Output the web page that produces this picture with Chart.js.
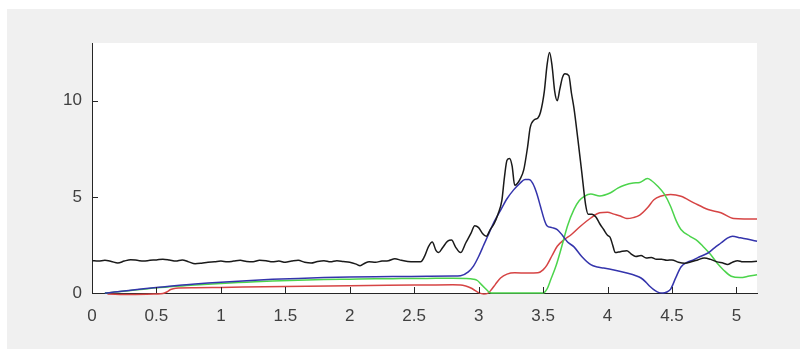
<!DOCTYPE html>
<html>
<head>
<meta charset="utf-8">
<script src="https://cdn.jsdelivr.net/npm/chart.js@4.4.0/dist/chart.umd.min.js"></script>
<style>
  html, body { margin: 0; padding: 0; background: #fff; }
  #wrap { width: 800px; height: 349px; position: relative; }
</style>
</head>
<body>
<div id="wrap"><canvas id="chart" width="800" height="349"></canvas></div>
<script>
// tick labels
const xTicks = [0, 0.5, 1, 1.5, 2, 2.5, 3, 3.5, 4, 4.5, 5];
const yTicks = [0, 5, 10];

// black trace (noisy)
const blackX = [0, 0.05, 0.1, 0.15, 0.2, 0.25, 0.3, 0.35, 0.4, 0.45, 0.5, 0.55, 0.6, 0.65, 0.7, 0.75, 0.8, 0.85, 0.9, 0.95,
  1.0, 1.05, 1.1, 1.15, 1.2, 1.25, 1.3, 1.35, 1.4, 1.45, 1.5, 1.55, 1.6, 1.65, 1.7, 1.75, 1.8, 1.85, 1.9, 1.95,
  2.0, 2.05, 2.08, 2.12, 2.15, 2.2, 2.25, 2.3, 2.35, 2.4, 2.45, 2.5, 2.55,
  2.58, 2.61, 2.64, 2.67, 2.69, 2.72, 2.76, 2.79, 2.82, 2.86, 2.9, 2.94, 2.97, 3.0, 3.03, 3.06, 3.09, 3.12, 3.15, 3.18,
  3.2, 3.22, 3.24, 3.26, 3.28, 3.3, 3.32, 3.35, 3.38, 3.4, 3.43, 3.46, 3.48, 3.51, 3.53, 3.55, 3.57, 3.59, 3.61, 3.63,
  3.65, 3.67, 3.7, 3.72, 3.74, 3.77, 3.8, 3.83, 3.85, 3.88, 3.91, 3.94, 3.97, 4.0, 4.02, 4.04, 4.06, 4.1, 4.15, 4.18,
  4.22, 4.26, 4.3, 4.34, 4.38, 4.42, 4.46, 4.5, 4.55, 4.6, 4.65, 4.7, 4.75, 4.8, 4.85, 4.9, 4.93, 4.97, 5.01, 5.05, 5.1, 5.16];
const blackY = [1.68, 1.66, 1.7, 1.64, 1.56, 1.66, 1.73, 1.7, 1.66, 1.7, 1.72, 1.76, 1.72, 1.66, 1.72, 1.62, 1.52, 1.55, 1.6, 1.62,
  1.66, 1.62, 1.66, 1.7, 1.64, 1.62, 1.7, 1.68, 1.62, 1.66, 1.6, 1.66, 1.7, 1.6, 1.56, 1.64, 1.68, 1.62, 1.68, 1.64,
  1.6, 1.5, 1.42, 1.56, 1.62, 1.6, 1.66, 1.68, 1.78, 1.7, 1.64, 1.62, 1.62,
  1.9, 2.4, 2.65, 2.2, 2.1, 2.35, 2.7, 2.75, 2.4, 2.1, 2.6, 3.1, 3.5, 3.4, 3.1, 2.95, 3.3, 3.6, 4.1, 4.8,
  6.0, 6.9, 7.0, 6.6, 5.6, 5.7, 5.9, 6.4, 7.6, 8.6, 9.0, 9.1, 9.4, 10.5, 11.8, 12.5, 11.8, 10.5, 10.0, 10.6,
  11.2, 11.4, 11.3, 10.4, 9.6, 8.0, 6.3, 4.6, 4.1, 4.1, 3.95, 3.6, 3.3, 3.0, 2.9, 2.5, 2.1, 2.15, 2.2, 2.05,
  1.9, 1.95, 1.82, 1.85, 1.75, 1.75, 1.7, 1.72, 1.6, 1.55, 1.62, 1.72, 1.82, 1.75, 1.62, 1.55, 1.48, 1.6, 1.68, 1.62, 1.62, 1.65];

// blue trace
const blueX = [0.1, 0.2, 0.3, 0.4, 0.5, 0.6, 0.7, 0.8, 0.9, 1.0, 1.2, 1.4, 1.6, 1.8, 2.0, 2.2, 2.4, 2.6, 2.8, 2.86, 2.92, 2.96,
  3.0, 3.04, 3.07, 3.12, 3.17, 3.22, 3.27, 3.32, 3.36, 3.39, 3.42, 3.45, 3.48, 3.51, 3.53, 3.57, 3.61, 3.65, 3.69, 3.74,
  3.8, 3.87, 3.92, 3.97, 4.05, 4.15, 4.22, 4.26, 4.3, 4.33, 4.37, 4.4, 4.43, 4.46, 4.49, 4.53, 4.57, 4.62, 4.67, 4.72,
  4.78, 4.83, 4.88, 4.93, 4.97, 5.03, 5.1, 5.16];
const blueY = [0, 0.06, 0.14, 0.22, 0.29, 0.35, 0.41, 0.47, 0.52, 0.56, 0.64, 0.71, 0.76, 0.8, 0.83, 0.85, 0.86, 0.87, 0.88, 0.9, 1.1, 1.4,
  1.9, 2.5, 2.95, 3.7, 4.3, 4.9, 5.35, 5.7, 5.9, 5.9, 5.7, 5.2, 4.5, 3.8, 3.5, 3.4, 3.3, 3.0, 2.65, 2.4,
  1.9, 1.47, 1.35, 1.3, 1.2, 1.04, 0.9, 0.78, 0.55, 0.34, 0.12, 0.02, 0, 0.05, 0.2, 0.8, 1.35, 1.6, 1.73, 1.9,
  2.08, 2.35, 2.6, 2.85, 2.95, 2.87, 2.78, 2.69];

// green trace
const greenX = [0.1, 0.2, 0.3, 0.4, 0.5, 0.6, 0.7, 0.8, 0.9, 1.0, 1.2, 1.4, 1.6, 1.8, 2.0, 2.2, 2.4, 2.6, 2.8, 2.9, 2.96, 2.99,
  3.02, 3.05, 3.08, 3.1, 3.5, 3.53, 3.56, 3.6, 3.64, 3.69, 3.74, 3.78, 3.82, 3.87, 3.94, 4.02, 4.08, 4.13, 4.2, 4.25,
  4.31, 4.34, 4.39, 4.44, 4.49, 4.53, 4.57, 4.64, 4.7, 4.74, 4.8, 4.85, 4.9, 4.96, 5.03, 5.1, 5.16];
const greenY = [0, 0.06, 0.13, 0.2, 0.27, 0.32, 0.37, 0.42, 0.46, 0.5, 0.56, 0.62, 0.66, 0.7, 0.72, 0.74, 0.75, 0.76, 0.77, 0.76, 0.72, 0.65,
  0.45, 0.25, 0.05, 0, 0, 0.2, 0.7, 1.4, 2.3, 3.5, 4.35, 4.8, 5.03, 5.15, 5.05, 5.2, 5.45, 5.6, 5.72, 5.75,
  5.95, 5.85, 5.55, 5.15, 4.5, 3.8, 3.3, 2.95, 2.7, 2.43, 2.0, 1.56, 1.2, 0.87, 0.8, 0.88, 0.95];

// red trace
const redX = [0.12, 0.3, 0.5, 0.55, 0.58, 0.61, 0.65, 0.8, 1.0, 1.5, 2.0, 2.5, 2.8, 2.86, 2.9, 2.94, 2.97, 3.0, 3.04, 3.07,
  3.1, 3.13, 3.17, 3.22, 3.28, 3.38, 3.46, 3.5, 3.53, 3.57, 3.61, 3.66, 3.72, 3.79, 3.87, 3.94, 4.0, 4.05, 4.1, 4.15,
  4.2, 4.25, 4.31, 4.36, 4.41, 4.49, 4.57, 4.67, 4.78, 4.88, 4.98, 5.06, 5.16];
const redY = [-0.05, -0.08, -0.05, -0.03, 0.05, 0.18, 0.25, 0.27, 0.29, 0.34, 0.38, 0.41, 0.43, 0.42, 0.36, 0.26, 0.14, 0.02, -0.05, -0.02,
  0.18, 0.45, 0.78, 0.98, 1.05, 1.04, 1.05, 1.2, 1.45, 1.95, 2.43, 2.75, 3.04, 3.47, 3.9, 4.17, 4.2, 4.1, 4.0, 3.87,
  3.92, 4.05, 4.43, 4.85, 5.03, 5.12, 5.03, 4.69, 4.34, 4.17, 3.87, 3.85, 3.85];

function pts(xs, ys) {
  return xs.map((x, i) => ({ x: x, y: ys[i] }));
}

function series(label, xs, ys, color) {
  return {
    label: label,
    data: pts(xs, ys),
    borderColor: color,
    borderWidth: 1.5,
    pointRadius: 0,
    fill: false,
    cubicInterpolationMode: 'monotone',
    clip: 4
  };
}

// grey figure, white axes, MATLAB-style inward ticks
const matlabFrame = {
  id: 'matlabFrame',
  beforeDraw(chart) {
    const ctx = chart.ctx;
    const a = chart.chartArea;
    ctx.save();
    ctx.fillStyle = '#f0f0f0';
    ctx.fillRect(7, 9, chart.width - 7, chart.height - 9);
    ctx.fillStyle = '#ffffff';
    ctx.fillRect(a.left, a.top, a.right - a.left, a.bottom - a.top);
    ctx.restore();
  },
  afterDraw(chart) {
    const ctx = chart.ctx;
    const a = chart.chartArea;
    const xs = chart.scales.x;
    const ys = chart.scales.y;
    ctx.save();
    ctx.strokeStyle = '#262626';
    ctx.lineWidth = 1;
    ctx.beginPath();
    xTicks.forEach(v => {
      const px = Math.round(xs.getPixelForValue(v)) + 0.5;
      ctx.moveTo(px, a.bottom);
      ctx.lineTo(px, a.bottom - 6);
    });
    yTicks.forEach(v => {
      const py = Math.round(ys.getPixelForValue(v)) + 0.5;
      ctx.moveTo(a.left, py);
      ctx.lineTo(a.left + 6, py);
    });
    ctx.stroke();
    ctx.restore();
  }
};

const tickFont = { family: 'Liberation Sans, Arial, sans-serif', size: 17 };

new Chart(document.getElementById('chart'), {
  type: 'line',
  data: {
    datasets: [
      series('black', blackX, blackY, '#1a1a1a'),
      series('blue', blueX, blueY, '#3434ac'),
      series('green', greenX, greenY, '#4cd44c'),
      series('red', redX, redY, '#d64444')
    ]
  },
  options: {
    responsive: false,
    animation: false,
    layout: { padding: { top: 43, right: 43, left: 0, bottom: 0 } },
    plugins: { legend: { display: false }, tooltip: { enabled: false } },
    scales: {
      x: {
        type: 'linear',
        min: 0,
        max: 5.16,
        afterBuildTicks: s => { s.ticks = xTicks.map(v => ({ value: v })); },
        afterFit: s => { s.height = 56; },
        grid: { drawOnChartArea: false, drawTicks: false },
        border: { display: true, color: '#262626', width: 1 },
        ticks: { color: '#404040', font: tickFont, padding: 13, maxRotation: 0, autoSkip: false,
          callback: v => String(v) }
      },
      y: {
        type: 'linear',
        min: 0,
        max: 13,
        afterBuildTicks: s => { s.ticks = yTicks.map(v => ({ value: v })); },
        afterFit: s => { s.width = 92; },
        grid: { drawOnChartArea: false, drawTicks: false },
        border: { display: true, color: '#262626', width: 1 },
        ticks: { color: '#404040', font: tickFont, padding: 10, callback: v => String(v) }
      }
    }
  },
  plugins: [matlabFrame]
});
</script>
</body>
</html>
